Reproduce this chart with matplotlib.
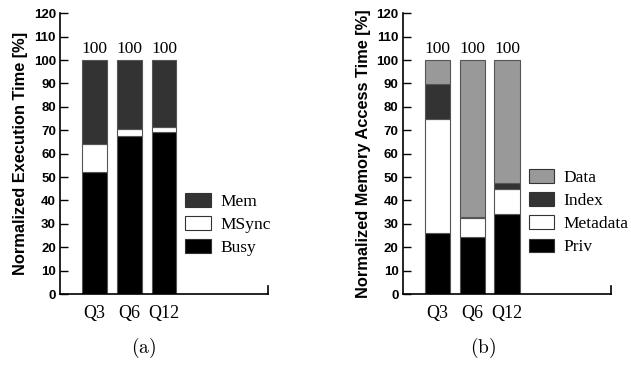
import matplotlib.pyplot as plt
import numpy as np

plt.rcParams['mathtext.fontset'] = 'cm'

queries = ["Q3", "Q6", "Q12"]

# (a) execution time breakdown [%]
busy = [52.3, 67.6, 69.2]
msync = [11.8, 3.0, 2.0]
mem = [35.9, 29.4, 28.8]

# (b) memory access time breakdown [%]
priv = [25.9, 24.2, 34.0]
metadata = [48.7, 8.4, 11.0]
index = [15.1, 0.5, 2.6]
data = [10.3, 66.9, 52.4]

SANS = "Liberation Sans"
SERIF = "Liberation Serif"
EDGE = "#555555"


def draw_panel(ax, series, names, colors, ylabel, legend_y, ylabel_size):
    x = np.arange(1, len(queries) + 1)
    bottom = np.zeros(len(queries))
    handles = []
    for vals, name, col in zip(series, names, colors):
        h = ax.bar(x, vals, 0.72, bottom=bottom, color=col, edgecolor=EDGE,
                   linewidth=0.8, label=name)
        handles.append(h)
        bottom = bottom + np.array(vals)
    for xi, tot in zip(x, bottom):
        ax.text(xi, tot + 1.2, "%d" % round(tot), ha="center", va="bottom",
                fontsize=12.5, family=SERIF)
    ax.set_xlim(0, 6)
    ax.set_ylim(0, 120)
    ax.set_yticks(range(0, 121, 10))
    ax.set_xticks(x)
    ax.set_xticklabels(queries, fontsize=13, family=SERIF)
    ax.tick_params(axis="x", length=0, pad=8)
    ax.tick_params(axis="y", direction="in", length=6, width=1, pad=3)
    for lab in ax.get_yticklabels():
        lab.set_family(SANS)
        lab.set_fontweight("bold")
        lab.set_fontsize(9.5)
    ax.spines["top"].set_visible(False)
    ax.spines["right"].set_visible(False)
    ax.spines["left"].set_linewidth(1.2)
    ax.spines["bottom"].set_linewidth(1.2)
    ax.axvline(6, ymin=0, ymax=0.028, color="black", lw=1.2, clip_on=False)
    ax.set_ylabel(ylabel, family=SANS, fontweight="bold", fontsize=ylabel_size,
                  labelpad=4)
    leg = ax.legend(handles[::-1], names[::-1], loc="upper left",
                    bbox_to_anchor=(0.57, legend_y), frameon=False,
                    prop={"family": SERIF, "size": 12.5}, handlelength=1.45,
                    handleheight=0.85, labelspacing=0.36, handletextpad=0.55,
                    borderaxespad=0)
    for p in leg.get_patches():
        p.set_edgecolor("#333333")
    return leg


fig = plt.figure(figsize=(6.31, 3.66), dpi=100)
ax1 = fig.add_axes([0.0951, 0.1967, 0.3296, 0.767])
ax2 = fig.add_axes([0.638, 0.1967, 0.331, 0.767])

draw_panel(ax1, [busy, msync, mem], ["Busy", "MSync", "Mem"],
           ["black", "white", "#333333"], "Normalized Execution Time [%]",
           0.385, 11.8)
draw_panel(ax2, [priv, metadata, index, data], ["Priv", "Metadata", "Index", "Data"],
           ["black", "white", "#333333", "#999999"],
           "Normalized Memory Access Time [%]", 0.47, 11.8)

fig.text(0.227, 0.05, r"$\mathrm{(a)}$", ha="center", va="center", fontsize=14)
fig.text(0.765, 0.05, r"$\mathrm{(b)}$", ha="center", va="center", fontsize=14)

fig.savefig("out.png", dpi=100)
